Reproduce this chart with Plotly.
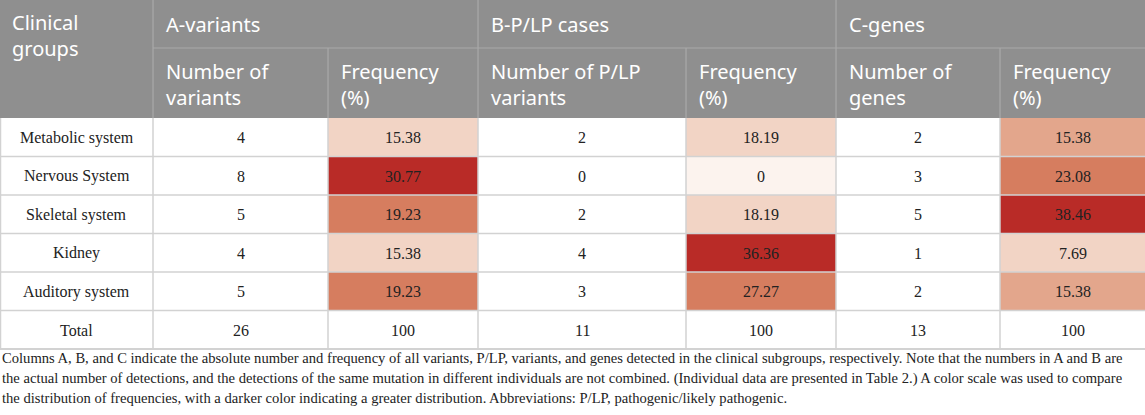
import plotly.graph_objects as go

# ---------------- data ----------------
groups = ["Metabolic system", "Nervous System", "Skeletal system", "Kidney", "Auditory system", "Total"]
a_num = [4, 8, 5, 4, 5, 26]
a_freq = [15.38, 30.77, 19.23, 15.38, 19.23, 100]
b_num = [2, 0, 2, 4, 3, 11]
b_freq = [18.19, 0, 18.19, 36.36, 27.27, 100]
c_num = [2, 3, 5, 1, 2, 13]
c_freq = [15.38, 23.08, 38.46, 7.69, 15.38, 100]

group_headers = ["A-variants", "B-P/LP cases", "C-genes"]
sub_headers = [["Number of", "variants"], ["Frequency", "(%)"],
               ["Number of P/LP", "variants"], ["Frequency", "(%)"],
               ["Number of", "genes"], ["Frequency", "(%)"]]
corner_header = ["Clinical", "groups"]

caption_lines = [
    "Columns A, B, and C indicate the absolute number and frequency of all variants, P/LP, variants, and genes detected in the clinical subgroups, respectively. Note that the numbers in A and B are",
    "the actual number of detections, and the detections of the same mutation in different individuals are not combined. (Individual data are presented in Table 2.) A color scale was used to compare",
    "the distribution of frequencies, with a darker color indicating a greater distribution. Abbreviations: P/LP, pathogenic/likely pathogenic.",
]

# ---------------- styles ----------------
W, H = 1145, 415
col_widths = [153, 175, 150, 208, 150, 164, 145]
head1_h, head2_h, row_h = 48, 70, 38.5
DARK, MEDDARK, MED, LIGHT, VLIGHT, WHITE = "#b92b27", "#d67d5f", "#e3a68c", "#f2d4c5", "#fcf3ee", "#ffffff"
freq_colors = {
    2: [LIGHT, DARK, MEDDARK, LIGHT, MEDDARK, WHITE],
    4: [LIGHT, VLIGHT, LIGHT, DARK, MEDDARK, WHITE],
    6: [MED, MEDDARK, DARK, LIGHT, MED, WHITE],
}
HEAD_BG = "#8f8f8f"
HEAD_LINE = "#a9a9a9"
GRID = "#d2d2d2"
head_font = dict(family="Noto Sans", size=20, color="white")
cell_font = dict(family="Liberation Serif", size=16, color="#222222")
cap_font = dict(family="Liberation Serif", size=14.6, color="#222222")

edges = [0]
for w in col_widths:
    edges.append(edges[-1] + w)
body_top = head1_h + head2_h
columns = [groups, a_num, a_freq, b_num, b_freq, c_num, c_freq]
nrows = len(groups)

shapes, annots = [], []

def rect(x0, y0, x1, y1, fill):
    shapes.append(dict(type="rect", xref="x", yref="y", x0=x0, x1=x1, y0=y0, y1=y1,
                       fillcolor=fill, line=dict(width=0), layer="below"))

def line(x0, y0, x1, y1, color, width=1.2):
    shapes.append(dict(type="line", xref="x", yref="y", x0=x0, x1=x1, y0=y0, y1=y1,
                       line=dict(color=color, width=width)))

def text(x, y, s, font, xanchor="center"):
    annots.append(dict(x=x, y=y, xref="x", yref="y", text=s, showarrow=False,
                       xanchor=xanchor, yanchor="middle", align=xanchor if xanchor != "center" else "center",
                       font=font))

def fmt(v):
    return v if isinstance(v, str) else f"{v:g}"

# header background
rect(0, 0, W, body_top, HEAD_BG)
line(edges[1], head1_h, W, head1_h, HEAD_LINE)
for i in range(1, len(edges) - 1):
    top = 0 if i in (1, 3, 5) else head1_h
    line(edges[i], top, edges[i], body_top, HEAD_LINE)

pad = 11
text(edges[0] + pad - 1, 35.5, "<br>".join(corner_header), head_font, "left")
for g, name in enumerate(group_headers):
    text(edges[1 + 2 * g] + pad, 24, name, head_font, "left")
for j, lines_ in enumerate(sub_headers):
    text(edges[1 + j] + pad, 84, "<br>".join(lines_), head_font, "left")

# body
for c, col in enumerate(columns):
    for r in range(nrows):
        y0 = body_top + r * row_h
        y1 = y0 + row_h
        fill = freq_colors[c][r] if c in freq_colors else WHITE
        if fill != WHITE:
            rect(edges[c], y0, edges[c + 1], y1, fill)
        text((edges[c] + edges[c + 1]) / 2, (y0 + y1) / 2 + 0.5, fmt(col[r]), cell_font)

for r in range(1, nrows):
    y = body_top + r * row_h
    line(0, y, W, y, GRID, 1.5)
bottom = body_top + nrows * row_h
line(0, bottom, W, bottom, GRID, 2)
for i in range(0, len(edges) - 1):
    x = edges[i] + (0.5 if i == 0 else 0)
    line(x, body_top, x, bottom, GRID, 1.5)

# caption
for k, s in enumerate(caption_lines):
    text(0, 358 + k * 20, s, cap_font, "left")

fig = go.Figure()
fig.update_layout(
    width=W, height=H, margin=dict(l=0, r=0, t=0, b=0),
    paper_bgcolor="white", plot_bgcolor="white",
    xaxis=dict(range=[0, W], visible=False, fixedrange=True),
    yaxis=dict(range=[H, 0], visible=False, fixedrange=True),
    shapes=shapes, annotations=annots, showlegend=False,
)
fig.write_html("out.html", config={"displayModeBar": False},
               post_script="document.body.style.margin='0';document.body.style.overflow='hidden';")
